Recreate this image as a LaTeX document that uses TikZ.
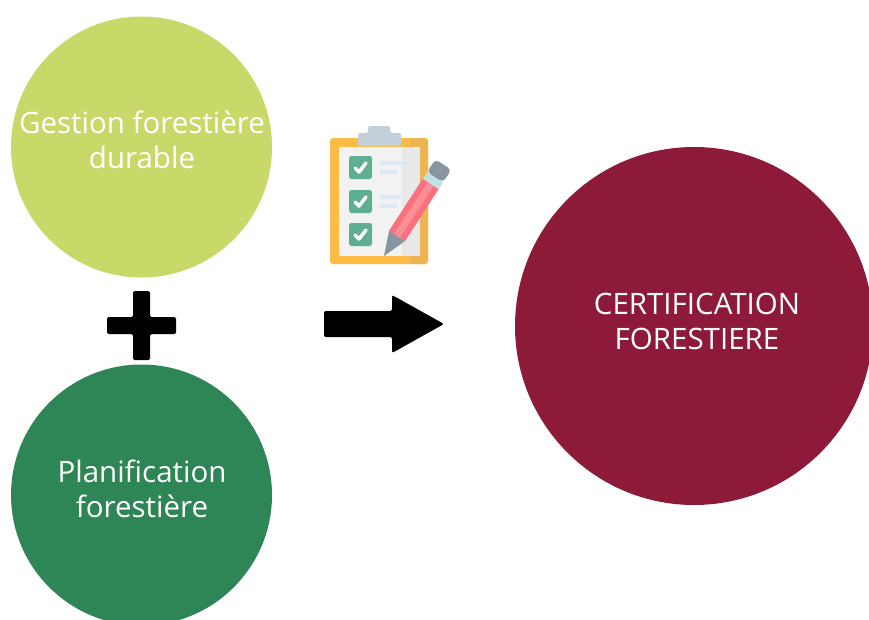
\documentclass[tikz,border=0pt]{standalone}
\usepackage{fontspec}
\setmainfont{Open Sans}
\definecolor{gestioncol}{HTML}{C9D969}
\definecolor{planifcol}{HTML}{2E8555}
\definecolor{certifcol}{HTML}{8E1A3A}
\definecolor{boardcol}{HTML}{FBBB45}
\definecolor{boarddark}{HTML}{EDB551}
\definecolor{clipcol}{HTML}{C3D0DA}
\definecolor{checkcol}{HTML}{5DAE93}
\definecolor{linecol}{HTML}{DCE8F5}
\definecolor{pencilcol}{HTML}{F8717F}
\definecolor{pencillight}{HTML}{FA8F96}
\definecolor{bandcol}{HTML}{BFE3E3}
\definecolor{greycol}{HTML}{8695A0}
\tikzset{
  disc/.style={circle,inner sep=0pt,minimum size=#1},
  lbl/.style={text=white,align=center,font=\fontsize{29.5}{35}\selectfont},
  tick/.style={draw=white,line width=3.5pt,line cap=round,line join=round},
  checkbox/.style={fill=checkcol,rounded corners=2.5pt},
  txtline/.style={fill=linecol}
}
\begin{document}
\begin{tikzpicture}[x=1pt,y=-1pt]
\useasboundingbox (0,0) rectangle (869,619);
\clip (0,0) rectangle (869,619);

\node[disc=261pt,fill=gestioncol] at (141.5,147) (gestion) {};
\node[disc=261pt,fill=planifcol]  at (141.5,495) (planif)  {};
\node[disc=358pt,fill=certifcol]  at (694,326) (certif)  {};

\node[lbl] at (142,140) (gestiontxt) {Gestion forestière\\durable};
\node[lbl] at (142,489) (planiftxt)  {Planification\\forestière};
\node[lbl] at (697,321) (certiftxt)  {CERTIFICATION\\FORESTIERE};

% plus
\fill[rounded corners=1.5pt] (133,291) -- (150,291) -- (150,317) -- (176,317) -- (176,334) -- (150,334)
  -- (150,360) -- (133,360) -- (133,334) -- (107,334) -- (107,317) -- (133,317) -- cycle;

% arrow
\fill[rounded corners=2pt] (324,311) -- (392,311) -- (392,295) -- (444,324) -- (392,353)
  -- (392,337) -- (324,337) -- cycle;

% clipboard
\fill[boardcol,rounded corners=3pt] (330,138) rectangle (428,264);
\fill[boarddark,rounded corners=3pt] (410,138) rectangle (428,264);
\fill[boarddark] (410,138) rectangle (416,264);
\fill[white!95!black] (339,147) rectangle (420,256);
\fill[white!91!black] (402,147) rectangle (420,256);
\fill[clipcol,rounded corners=1.5pt] (358,146) -- (358,133) -- (368,133) -- (368,126) -- (390,126)
  -- (390,133) -- (401,133) -- (401,146) -- cycle;

\foreach \ytop in {156,190,223} {
  \fill[checkbox] (349,\ytop) rectangle +(23,23);
  \draw[tick] (355,\ytop+12) -- (359,\ytop+16) -- (366,\ytop+7);
}
\fill[txtline] (380,161) rectangle (408,165);
\fill[txtline] (380,170) rectangle (397,174);
\fill[txtline] (380,195) rectangle (401,199);
\fill[txtline] (380,204) rectangle (397,208);

% pencil
\begin{scope}[shift={(384,256)},x={(0.544pt,0.839pt)},y={(0.839pt,-0.544pt)}]
\fill[greycol] (0,0) -- (24,-9.5) -- (24,9.5) -- cycle;
\fill[pencilcol] (24,-9.5) -- (86,-9.5) -- (86,9.5) -- (24,9.5) -- cycle;
\fill[pencillight] (24,-3.5) -- (86,-3.5) -- (86,3.5) -- (24,3.5) -- cycle;
\fill[bandcol] (86,-9.5) -- (94,-9.5) -- (94,9.5) -- (86,9.5) -- cycle;
\fill[greycol,rounded corners=4pt] (94,-9.5) -- (109,-9.5) -- (109,9.5) -- (94,9.5) -- cycle;
\end{scope}

\end{tikzpicture}
\end{document}
